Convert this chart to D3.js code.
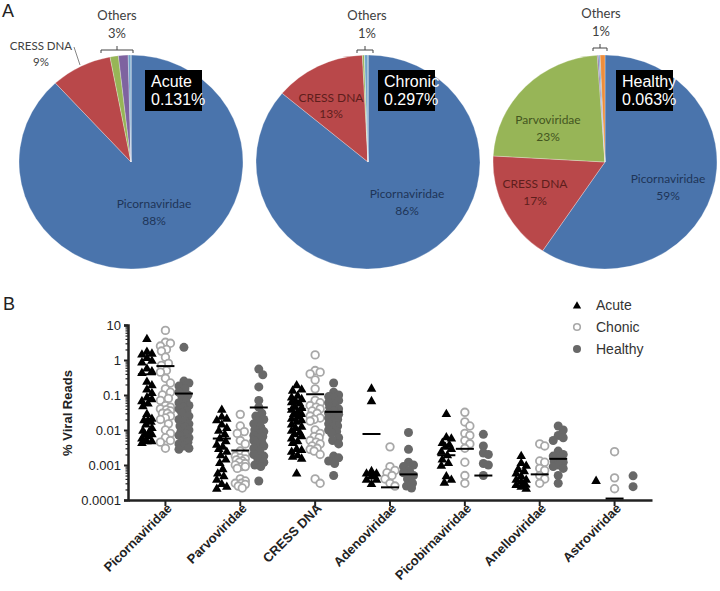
<!DOCTYPE html>
<html><head><meta charset="utf-8">
<script src="https://cdn.jsdelivr.net/npm/d3@7"></script>
<style>body{margin:0;background:#fff} svg{display:block}</style>
</head><body>
<svg id="c" width="720" height="591"></svg>
<script>
// ---------- Panel A data ----------
const pieGroups = ["Acute", "Chronic", "Healthy"];
const pieTotals = ["0.131%", "0.297%", "0.063%"];
const pieFamilies = ["Picornaviridae", "CRESS DNA", "Parvoviridae", "Adenoviridae", "Picobirnaviridae", "Anelloviridae"];
const pieAcute = [88.2, 8.8, 1.2, 1.4, 0.4, 0];
const pieChronic = [86.1, 13.1, 0.3, 0.0, 0.5, 0];
const pieHealthy = [59.4, 16.5, 23.0, 0.2, 0.2, 0.7];
const pieOthers = ["3%", "1%", "1%"];
const pieColors = ["#4A74AC", "#B9484A", "#97B557", "#7E63A0", "#6FA3C9", "#EE8E3C"];

// ---------- Panel B data ----------
const families = ["Picornaviridae", "Parvoviridae", "CRESS DNA", "Adenoviridae", "Picobirnaviridae", "Anelloviridae", "Astroviridae"];
const yTicks = [10, 1, 0.1, 0.01, 0.001, 0.0001];
const yTickLabels = ["10", "1", "0.1", "0.01", "0.001", "0.0001"];
const seriesNames = ["Acute", "Chonic", "Healthy"];

const acute = [
  [4.2,1.8,1.6,1.5,1.2,1.0,0.9,0.6,0.5,0.45,0.25,0.2,0.15,0.12,0.09,0.08,0.07,0.06,0.05,0.03,0.022,0.02,0.02,0.018,0.015,0.012,0.01,0.009,0.008,0.008,0.007,0.006,0.005,0.005,0.0045],
  [0.04,0.025,0.022,0.02,0.015,0.012,0.01,0.008,0.006,0.005,0.004,0.0035,0.003,0.0025,0.002,0.0015,0.0012,0.0008,0.0006,0.0005,0.0004,0.0003,0.00025,0.00022],
  [0.2,0.15,0.14,0.1,0.09,0.08,0.07,0.065,0.06,0.05,0.045,0.04,0.035,0.03,0.03,0.025,0.022,0.02,0.018,0.015,0.013,0.012,0.01,0.009,0.008,0.007,0.006,0.005,0.0045,0.003,0.0028,0.0025,0.002,0.0018,0.0016,0.0006],
  [0.16,0.07,0.0007,0.0006,0.0006,0.0005,0.0005,0.0004,0.0004,0.0003],
  [0.03,0.0065,0.006,0.0045,0.004,0.0035,0.003,0.0025,0.002,0.0015,0.0012,0.001,0.0005,0.0004,0.00033],
  [0.0019,0.0012,0.001,0.0008,0.0007,0.0006,0.0005,0.0004,0.0004,0.00035,0.0003,0.00028,0.00025,0.00022],
  [0.00037]
];
const chronic = [
  [7,3.2,3,2.5,2,1.8,1.2,0.8,0.7,0.5,0.45,0.3,0.22,0.15,0.12,0.1,0.08,0.07,0.05,0.045,0.04,0.038,0.035,0.03,0.03,0.025,0.022,0.02,0.015,0.01,0.008,0.006,0.005,0.0045,0.003],
  [0.028,0.013,0.009,0.008,0.005,0.004,0.0025,0.002,0.0018,0.0016,0.0015,0.0014,0.0013,0.0012,0.0011,0.001,0.0009,0.0009,0.0008,0.0004,0.00035,0.0003,0.0003,0.00028,0.00025,0.00022],
  [1.4,0.5,0.45,0.4,0.27,0.15,0.07,0.06,0.05,0.045,0.04,0.035,0.03,0.025,0.022,0.02,0.018,0.01,0.008,0.0065,0.006,0.005,0.0045,0.004,0.0035,0.003,0.0028,0.0025,0.002,0.0004,0.0003],
  [0.0033,0.0009,0.0007,0.0006,0.0005,0.0004,0.0003,0.00025],
  [0.032,0.017,0.013,0.008,0.007,0.005,0.004,0.003,0.0012,0.0005,0.0003],
  [0.004,0.0035,0.0013,0.0012,0.0008,0.0007,0.0005,0.0004,0.0003],
  [0.0024,0.00043,0.00021]
];
const healthy = [
  [2.3,0.25,0.22,0.18,0.15,0.12,0.1,0.09,0.07,0.06,0.05,0.045,0.04,0.035,0.03,0.025,0.02,0.018,0.015,0.013,0.012,0.01,0.009,0.008,0.007,0.006,0.005,0.0045,0.004,0.0035,0.003,0.0028],
  [0.55,0.38,0.17,0.07,0.045,0.03,0.025,0.02,0.018,0.015,0.012,0.01,0.009,0.008,0.007,0.0065,0.006,0.005,0.0045,0.004,0.0035,0.003,0.0025,0.002,0.0018,0.0015,0.0012,0.001,0.0009,0.00035],
  [0.22,0.12,0.1,0.09,0.08,0.07,0.06,0.05,0.045,0.04,0.035,0.03,0.028,0.025,0.022,0.02,0.018,0.015,0.013,0.012,0.01,0.009,0.008,0.006,0.005,0.004,0.0018,0.0016,0.0013,0.0011,0.0005],
  [0.0085,0.0028,0.0012,0.001,0.0009,0.0007,0.0006,0.0005,0.0004,0.0003,0.00025,0.00022],
  [0.0075,0.0035,0.0022,0.002,0.0011,0.001,0.0005],
  [0.013,0.01,0.007,0.006,0.005,0.0025,0.002,0.0018,0.0015,0.0013,0.0012,0.001,0.0009,0.0008,0.0005,0.0003],
  [0.00049,0.00024]
];
const acuteMean   = [0.39, 0.0057, 0.04, 0.0077, 0.0019, 0.00024, null];
const chronicMean = [0.67, 0.0026, 0.105, 0.00023, 0.0029, 0.00054, 0.00011];
const healthyMean = [0.11, 0.044, 0.033, 0.00054, 0.0005, 0.0015, null];

// ---------- drawing ----------
const svg = d3.select("#c");
const ARIAL = "'Liberation Sans', Arial, sans-serif";
const CAL = "Lato, 'Open Sans', sans-serif";

svg.append("text").attr("x", 2).attr("y", 17).attr("font-family", ARIAL).attr("font-size", 18).attr("fill", "#222").text("A");
svg.append("text").attr("x", 3).attr("y", 310).attr("font-family", ARIAL).attr("font-size", 18).attr("fill", "#222").text("B");

// Pies
const pieX = d3.scalePoint().domain(pieGroups).range([131, 605]);
const pieCY = 162, RX = 112, RY = 107;
const pieData = [pieAcute, pieChronic, pieHealthy];
const pieGen = d3.pie().sort(null).value(d => d);
const arcGen = d3.arc().innerRadius(0).outerRadius(RY);

pieData.forEach((vals, gi) => {
  const cx = pieX(pieGroups[gi]);
  const g = svg.append("g").attr("transform", `translate(${cx},${pieCY}) scale(${RX / RY},1)`);
  g.selectAll("path").data(pieGen(vals)).join("path")
    .attr("d", arcGen)
    .attr("fill", (d, i) => pieColors[i])
    .attr("stroke", "rgba(255,255,255,0.45)")
    .attr("stroke-width", 0.6);
});

function twoLine(x, y1, y2, a, b, color, size, fam, anchor) {
  const t = svg.append("g").attr("font-family", fam).attr("font-size", size).attr("fill", color).attr("text-anchor", anchor || "middle");
  t.append("text").attr("x", x).attr("y", y1).attr("dominant-baseline", "central").text(a);
  t.append("text").attr("x", x).attr("y", y2).attr("dominant-baseline", "central").text(b);
}
function pct(v) { return Math.round(v) + "%"; }

const navy = "#1E3558", darkRed = "#5E1E1C", darkGreen = "#44561F", grey = "#404040";
twoLine(154, 203, 220, pieFamilies[0], pct(pieAcute[0]), navy, 12, CAL);
twoLine(41, 45, 61, pieFamilies[1], pct(pieAcute[1]), grey, 11.5, CAL);
svg.append("line").attr("x1", 74).attr("y1", 47).attr("x2", 80).attr("y2", 65).attr("stroke", "#666").attr("stroke-width", 0.8);
twoLine(407, 193, 210, pieFamilies[0], pct(pieChronic[0]), navy, 12, CAL);
twoLine(331, 97, 113, pieFamilies[1], pct(pieChronic[1]), darkRed, 12, CAL);
twoLine(668, 178, 195, pieFamilies[0], pct(pieHealthy[0]), navy, 12, CAL);
twoLine(535, 183, 200, pieFamilies[1], pct(pieHealthy[1]), darkRed, 12, CAL);
twoLine(548, 119, 136, pieFamilies[2], pct(pieHealthy[2]), darkGreen, 12, CAL);

const othersPos = [[117, 101, 133, 50], [367, 357, 373, 50], [601, 593, 607, 48]];
othersPos.forEach((p, i) => {
  twoLine(p[0], p[3] - 35, p[3] - 17, "Others", pieOthers[i], grey, 13, CAL);
  const mid = (p[1] + p[2]) / 2;
  svg.append("path")
    .attr("d", `M${p[1]},${p[3] + 3}V${p[3]}H${p[2]}V${p[3] + 3}M${mid},${p[3]}V${p[3] - 4}`)
    .attr("fill", "none").attr("stroke", "#444").attr("stroke-width", 1);
});

const boxX = [145, 378, 616];
pieGroups.forEach((name, i) => {
  svg.append("rect").attr("x", boxX[i]).attr("y", 70).attr("width", 57).attr("height", 41).attr("fill", "#000");
  const t = svg.append("g").attr("font-family", ARIAL).attr("font-size", 16).attr("fill", "#fff");
  t.append("text").attr("x", boxX[i] + 6).attr("y", 87).text(name);
  t.append("text").attr("x", boxX[i] + 6).attr("y", 105).text(pieTotals[i]);
});

// ---------- Panel B scatter ----------
const x = d3.scaleBand().domain(families).range([128, 652]).paddingInner(0).paddingOuter(0);
const y = d3.scaleLog().domain([0.0001, 10]).range([500, 325]);
const xc = f => x(f) + x.bandwidth() / 2;
const offsets = [-18.5, 0, 18.5];

const yAxis = d3.axisLeft(y).tickValues(yTicks).tickFormat((d, i) => yTickLabels[i]).tickSize(4).tickPadding(3);
const gy = svg.append("g").attr("transform", "translate(128,0)").call(yAxis);
gy.selectAll("text").attr("font-family", ARIAL).attr("font-size", 13).attr("fill", "#222");
gy.selectAll("line").attr("stroke", "#222").attr("stroke-width", 2);
gy.select(".domain").attr("stroke", "#222").attr("stroke-width", 2.5);
const minor = [];
for (let e = -4; e < 1; e++) for (let m = 2; m <= 9; m++) minor.push(m * Math.pow(10, e));
svg.append("g").attr("transform", "translate(128,0)")
  .call(d3.axisLeft(y).tickValues(minor).tickFormat("").tickSize(2.5))
  .call(g => g.select(".domain").remove())
  .selectAll("line").attr("stroke", "#222").attr("stroke-width", 1.2);

const gx = svg.append("g").attr("transform", "translate(0,500)")
  .call(d3.axisBottom(x).tickSize(6).tickSizeOuter(0));
gx.select(".domain").attr("stroke", "#222").attr("stroke-width", 2.5);
gx.selectAll(".tick line").attr("stroke", "#222").attr("stroke-width", 2);
gx.selectAll("text")
  .attr("font-family", ARIAL).attr("font-size", 13).attr("font-weight", "bold").attr("fill", "#222")
  .attr("text-anchor", "end").attr("transform", "translate(4,6) rotate(-45)").attr("dy", "0.35em").attr("y", 0).attr("x", 0);

svg.append("text").attr("transform", "translate(72,413) rotate(-90)")
  .attr("text-anchor", "middle").attr("font-family", ARIAL).attr("font-size", 13).attr("font-weight", "bold").attr("fill", "#222")
  .text("% Viral Reads");

// compact beeswarm placement (points may overlap, as in the reference)
function swarm(vals) {
  const pts = vals.map(v => ({ v, py: y(v) })).sort((a, b) => a.py - b.py);
  const cands = [0];
  for (let k = 1; k <= 5; k++) cands.push(k, -k);
  const placed = [], sep = 6.5;
  pts.forEach(p => {
    let chosen = null, bestD = -1, bestDx = 0;
    for (const dx of cands) {
      let md = Infinity;
      for (const q of placed) { const d = Math.hypot(q.dx - dx, q.py - p.py); if (d < md) md = d; }
      if (md >= sep) { chosen = dx; break; }
      if (md > bestD + 0.01) { bestD = md; bestDx = dx; }
    }
    p.dx = chosen !== null ? chosen : bestDx;
    placed.push(p);
  });
  return pts;
}

const series = [acute, chronic, healthy];
const means = [acuteMean, chronicMean, healthyMean];
const tri = d3.symbol().type(d3.symbolTriangle).size(40);

families.forEach((f, fi) => {
  series.forEach((s, si) => {
    const cx = xc(f) + offsets[si];
    const pts = swarm(s[fi]);
    const g = svg.append("g");
    if (si === 0) {
      g.selectAll("path").data(pts).join("path")
        .attr("d", tri).attr("transform", d => `translate(${cx + d.dx},${d.py + 1})`).attr("fill", "#000");
    } else if (si === 1) {
      g.selectAll("circle").data(pts).join("circle")
        .attr("cx", d => cx + d.dx).attr("cy", d => d.py).attr("r", 3.8)
        .attr("fill", "#fff").attr("stroke", "#A8A8A8").attr("stroke-width", 1.8);
    } else {
      g.selectAll("circle").data(pts).join("circle")
        .attr("cx", d => cx + d.dx).attr("cy", d => d.py).attr("r", 4.5).attr("fill", "#686868");
    }
    const m = means[si][fi];
    if (m !== null) {
      svg.append("line").attr("x1", cx - 9).attr("x2", cx + 9).attr("y1", y(m)).attr("y2", y(m))
        .attr("stroke", "#000").attr("stroke-width", 2);
    }
  });
});

const lg = svg.append("g").attr("font-family", ARIAL).attr("font-size", 14).attr("fill", "#333");
const legY = [305, 327, 349];
seriesNames.forEach((n, i) => {
  if (i === 0) lg.append("path").attr("d", d3.symbol().type(d3.symbolTriangle).size(30)).attr("transform", `translate(577,${legY[i] + 1})`).attr("fill", "#000");
  else if (i === 1) lg.append("circle").attr("cx", 577).attr("cy", legY[i]).attr("r", 3.3).attr("fill", "#fff").attr("stroke", "#A8A8A8").attr("stroke-width", 1.6);
  else lg.append("circle").attr("cx", 577).attr("cy", legY[i]).attr("r", 4).attr("fill", "#686868");
  lg.append("text").attr("x", 596).attr("y", legY[i]).attr("dominant-baseline", "central").text(n);
});
</script>
</body></html>
